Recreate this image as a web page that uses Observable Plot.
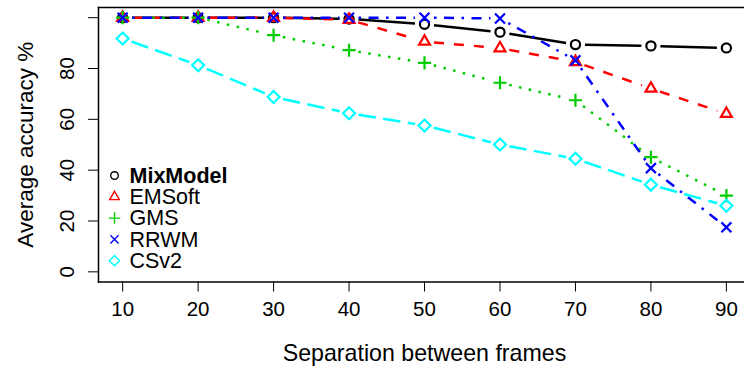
<!DOCTYPE html>
<html>
<head>
<meta charset="utf-8">
<script src="https://cdn.jsdelivr.net/npm/d3@7"></script>
<script src="https://cdn.jsdelivr.net/npm/@observablehq/plot@0.6"></script>
<style>
  html, body { margin: 0; padding: 0; background: #fff; overflow: hidden; }
  svg { display: block; }
</style>
</head>
<body>
<div id="chart"></div>
<script>
// ---- data ----
const separations = [10, 20, 30, 40, 50, 60, 70, 80, 90];
const seriesNames = ["MixModel", "EMSoft", "GMS", "RRWM", "CSv2"];
const mixModel = [100, 100, 100, 99.5, 97.4, 94.3, 89.4, 88.9, 88.1];
const emSoft   = [100, 100, 100, 99.2, 90.6, 88.0, 82.6, 72.1, 62.2];
const gms      = [100, 100, 93.1, 87.2, 82.2, 74.4, 67.5, 45.1, 30.0];
const rrwm     = [100, 100, 100, 100, 100, 99.7, 83.2, 40.8, 17.5];
const csv2     = [91.8, 81.3, 68.8, 62.4, 57.6, 50.1, 44.5, 34.3, 26.0];
const yTicks = [0, 20, 40, 60, 80, 100];
const yTickLabels = [0, 20, 40, 60, 80];
const xLabel = "Separation between frames";
const yLabel = "Average accuracy %";

// ---- styles ----
const styles = [
  {color: "#000000", symbol: "circle",   r: 4.6, dash: null,              legR: 3.8},
  {color: "#FF0000", symbol: "triangle2",r: 5.2, dash: "10,10",           legR: 4.6},
  {color: "#00CD00", symbol: "plus",     r: 4.3, dash: "2.5,7.5",         legR: 3.8},
  {color: "#0000FF", symbol: "times",    r: 4.6, dash: "2.5,7.5,10,7.5",  legR: 3.8},
  {color: "#00FFFF", symbol: "diamond2", r: 5.4, dash: "17.5,7.5",        legR: 4.6}
];
const allValues = [mixModel, emSoft, gms, rrwm, csv2];

const font = "'Liberation Sans', Arial, Helvetica, sans-serif";
const marks = [];

allValues.forEach((vals, s) => {
  const st = styles[s];
  const pts = separations.map((x, i) => ({x, y: vals[i]}));
  const segs = pts.slice(1).map((p, i) => ({x1: pts[i].x, y1: pts[i].y, x2: p.x, y2: p.y}));
  marks.push(Plot.arrow(segs, {
    x1: "x1", y1: "y1", x2: "x2", y2: "y2",
    headLength: 0, inset: 9.5,
    stroke: st.color, strokeWidth: 2.5,
    strokeDasharray: st.dash, strokeLinecap: "butt"
  }));
  marks.push(Plot.dot(pts, {
    x: "x", y: "y", symbol: st.symbol, r: st.r,
    stroke: st.color, fill: "none", strokeWidth: 2.2
  }));
});

// legend
seriesNames.forEach((name, s) => {
  const st = styles[s];
  marks.push(Plot.dot([name], {
    frameAnchor: "top-left", dx: 16, dy: 168 + s * 21.3,
    symbol: st.symbol, r: st.legR, stroke: st.color, fill: "none", strokeWidth: 1.4
  }));
  marks.push(Plot.text([name], {
    text: d => d, frameAnchor: "top-left", dx: 31, dy: 168.5 + s * 21.3,
    textAnchor: "start", lineAnchor: "middle", fontSize: 21.5,
    fontWeight: s === 0 ? "bold" : "normal", fill: "#000"
  }));
});

// axes
marks.push(Plot.axisX({ticks: separations, tickSize: 10, tickPadding: 9, fontSize: 20.5, label: null, stroke: "#000"}));
marks.push(Plot.axisY({ticks: yTicks, tickSize: 10, tickFormat: () => "", label: null, stroke: "#000"}));
marks.push(Plot.text(yTickLabels, {
  y: d => d, text: d => String(d), frameAnchor: "left", dx: -31,
  rotate: -90, textAnchor: "middle", lineAnchor: "middle", fontSize: 20.5, fill: "#000"
}));
marks.push(Plot.text([yLabel], {
  text: d => d, frameAnchor: "left", dx: -73, rotate: -90,
  textAnchor: "middle", lineAnchor: "middle", fontSize: 22.5, fill: "#000"
}));
marks.push(Plot.text([xLabel], {
  text: d => d, frameAnchor: "bottom", dx: 3, dy: 71.5,
  textAnchor: "middle", lineAnchor: "middle", fontSize: 23.2, fill: "#000"
}));
// box (top, left, bottom sides; right side lies beyond the window)
marks.push(Plot.frame({anchor: "top", stroke: "#000", strokeWidth: 1.5}));
marks.push(Plot.frame({anchor: "left", stroke: "#000", strokeWidth: 1.5}));
marks.push(Plot.frame({anchor: "bottom", stroke: "#000", strokeWidth: 1.5}));

const chart = Plot.plot({
  width: 744,
  height: 369,
  marginLeft: 98,
  marginRight: 0,
  marginTop: 7,
  marginBottom: 87.5,
  style: {fontFamily: font, background: "#fff", color: "#000", overflow: "hidden"},
  x: {domain: [6.8, 92.4], axis: null},
  y: {domain: [-4, 104], axis: null},
  marks
});
document.getElementById("chart").append(chart);
</script>
</body>
</html>
